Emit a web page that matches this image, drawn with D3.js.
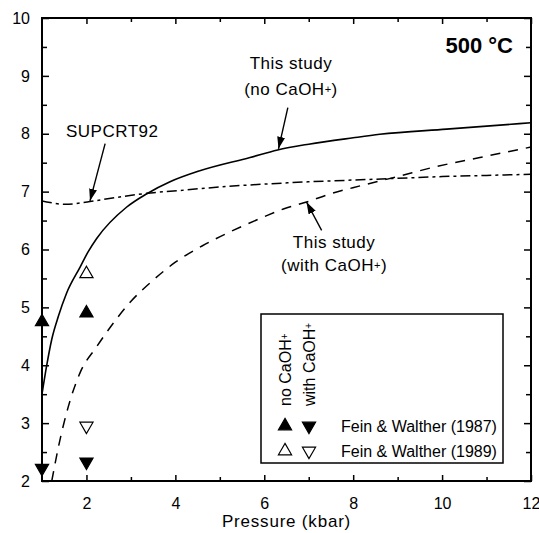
<!DOCTYPE html>
<html><head><meta charset="utf-8">
<script src="https://cdn.jsdelivr.net/npm/d3@7"></script>
<style>body{margin:0;background:#fff} text{font-family:"Liberation Sans",Arial,sans-serif;fill:#000}</style>
</head><body><svg id="c" width="539" height="533"></svg>
<script>
// ---- data ----
const xMajorTicks = [2, 4, 6, 8, 10, 12];
const xMinorTicks = [3, 5, 7, 9, 11];
const yMajorTicks = [2, 3, 4, 5, 6, 7, 8, 9, 10];
const yMinorTicks = [2.5, 3.5, 4.5, 5.5, 6.5, 7.5, 8.5, 9.5];

// This study (no CaOH+) - solid
const noCaOH_P = [1.0, 1.1, 1.22, 1.37, 1.55, 1.86, 2.03, 2.23, 2.9, 3.35, 3.88, 4.55, 5.68, 6.3, 7.0, 8.0, 8.6, 10.1, 12.0];
const noCaOH_V = [3.5, 3.97, 4.45, 4.85, 5.24, 5.7, 5.95, 6.19, 6.73, 6.96, 7.17, 7.36, 7.59, 7.72, 7.82, 7.93, 7.99, 8.08, 8.19];
// SUPCRT92 - dash-dot
const supcrt_P = [1.0, 1.5, 2.08, 2.68, 3.35, 4.1, 5.0, 6.0, 7.0, 8.0, 9.0, 10.0, 11.0, 12.0];
const supcrt_V = [6.84, 6.78, 6.83, 6.9, 6.97, 7.02, 7.08, 7.13, 7.17, 7.2, 7.23, 7.26, 7.28, 7.3];
// This study (with CaOH+) - dashed
const withCaOH_P = [1.22, 1.37, 1.59, 1.85, 2.23, 2.54, 2.96, 3.5, 4.0, 4.6, 5.3, 5.98, 6.43, 6.95, 7.48, 8.16, 9.0, 9.8, 10.85, 12.0];
const withCaOH_V = [2.0, 2.59, 3.28, 3.86, 4.32, 4.66, 5.07, 5.47, 5.78, 6.06, 6.33, 6.56, 6.70, 6.82, 6.96, 7.10, 7.26, 7.42, 7.59, 7.77];

// Fein & Walther data
const fw1987_noP = [1, 2];   const fw1987_noV = [4.75, 4.9];   // filled up
const fw1987_withP = [1, 2]; const fw1987_withV = [2.22, 2.33]; // filled down
const fw1989_noP = [2];      const fw1989_noV = [5.58];         // open up
const fw1989_withP = [2];    const fw1989_withV = [2.95];       // open down

// ---- chart ----
const svg = d3.select("#c");
const x = d3.scaleLinear([1, 12], [42, 531]);
const y = d3.scaleLinear([2, 10], [481, 18]);
const FS = 16;

const defs = svg.append("defs");
defs.append("clipPath").attr("id", "clip").append("rect")
  .attr("x", x(1)).attr("y", y(10)).attr("width", x(12) - x(1)).attr("height", y(2) - y(10));
defs.append("marker").attr("id", "ah").attr("markerUnits", "userSpaceOnUse")
  .attr("viewBox", "0 0 12 8").attr("refX", 12).attr("refY", 4)
  .attr("markerWidth", 12).attr("markerHeight", 8).attr("orient", "auto")
  .append("path").attr("d", "M0,0L12,4L0,8Z").attr("fill", "#000");

function axis(gen, ticks, size, labels, tr) {
  const g = svg.append("g").attr("transform", tr)
    .call(gen.tickValues(ticks).tickSizeInner(size).tickSizeOuter(0)
      .tickPadding(gen === null ? 0 : (labels ? (gen.__pad || 0) : 0))
      .tickFormat(labels ? d3.format("d") : ""));
  g.select(".domain").remove();
  g.selectAll(".tick line").attr("stroke", "#000").attr("stroke-width", 1.5);
  g.selectAll("text").style("font-size", FS + "px").attr("fill", "#000");
  return g;
}
// bottom
let ab = d3.axisBottom(x); ab.__pad = 17;
axis(ab, xMajorTicks, -6, true, `translate(0,${y(2)})`);
axis(d3.axisBottom(x), xMinorTicks, -4, false, `translate(0,${y(2)})`);
// top
axis(d3.axisTop(x), xMajorTicks, -6, false, `translate(0,${y(10)})`);
axis(d3.axisTop(x), xMinorTicks, -4, false, `translate(0,${y(10)})`);
// left
let al = d3.axisLeft(y); al.__pad = 12;
axis(al, yMajorTicks, -7, true, `translate(${x(1)},0)`);
axis(d3.axisLeft(y), yMinorTicks, -5, false, `translate(${x(1)},0)`);
// right
axis(d3.axisRight(y), yMajorTicks, -7, false, `translate(${x(12)},0)`);
axis(d3.axisRight(y), yMinorTicks, -5, false, `translate(${x(12)},0)`);

// frame
svg.append("rect").attr("x", x(1)).attr("y", y(10))
  .attr("width", x(12) - x(1)).attr("height", y(2) - y(10))
  .attr("fill", "none").attr("stroke", "#000").attr("stroke-width", 2);

// curves
const zip = (P, V) => P.map((p, i) => [p, V[i]]);
const line = d3.line().x(d => x(d[0])).y(d => y(d[1])).curve(d3.curveMonotoneX);
const curves = svg.append("g").attr("clip-path", "url(#clip)");
curves.append("path").attr("d", line(zip(noCaOH_P, noCaOH_V)))
  .attr("fill", "none").attr("stroke", "#000").attr("stroke-width", 1.6);
curves.append("path").attr("d", d3.line().x(d => x(d[0])).y(d => y(d[1])).curve(d3.curveCatmullRom)(zip(supcrt_P, supcrt_V)))
  .attr("fill", "none").attr("stroke", "#000").attr("stroke-width", 1.5)
  .attr("stroke-dasharray", "10,4,3,4");
curves.append("path").attr("d", line(zip(withCaOH_P, withCaOH_V)))
  .attr("fill", "none").attr("stroke", "#000").attr("stroke-width", 1.5)
  .attr("stroke-dasharray", "10,8");

// markers
const triUp = d3.symbol().type(d3.symbolTriangle).size(75);
function tri(P, V, down, filled) {
  svg.append("g").selectAll("path").data(zip(P, V)).join("path")
    .attr("d", triUp())
    .attr("transform", d => `translate(${x(d[0])},${y(d[1])})${down ? " rotate(180)" : ""}`)
    .attr("fill", filled ? "#000" : "#fff").attr("stroke", "#000").attr("stroke-width", 1.2);
}
tri(fw1987_noP, fw1987_noV, false, true);
tri(fw1987_withP, fw1987_withV, true, true);
tri(fw1989_noP, fw1989_noV, false, false);
tri(fw1989_withP, fw1989_withV, true, false);

// title
svg.append("text").attr("x", 513).attr("y", 53).attr("text-anchor", "end")
  .style("font-size", "22px").style("font-weight", "bold").text("500 °C");

// x axis title
svg.append("text").attr("x", (x(1) + x(12)) / 2).attr("y", 527).attr("text-anchor", "middle")
  .style("font-size", "17px").style("letter-spacing", "0.8px").text("Pressure (kbar)");

// annotations
function arrow(p0, p1) {
  svg.append("line").attr("x1", x(p0[0])).attr("y1", y(p0[1])).attr("x2", x(p1[0])).attr("y2", y(p1[1]))
    .attr("stroke", "#000").attr("stroke-width", 1.4).attr("marker-end", "url(#ah)");
}
function label(px, py, parts, anchor) {
  const t = svg.append("text").attr("x", x(px)).attr("y", y(py)).attr("text-anchor", anchor)
    .style("font-size", "17px").style("letter-spacing", "0.5px");
  parts.forEach(p => {
    const s = t.append("tspan").text(p.t);
    if (p.sup) s.style("font-size", "11px").attr("dy", -2);
    if (p.down) s.attr("dy", 2);
  });
}
label(1.54, 7.95, [{t: "SUPCRT92"}], "start");
arrow([2.42, 7.83], [2.08, 6.84]);

label(6.6, 9.12, [{t: "This study"}], "middle");
label(6.6, 8.67, [{t: "(no CaOH"}, {t: "+", sup: true}, {t: ")", down: true}], "middle");
arrow([6.53, 8.45], [6.32, 7.74]);

label(7.57, 6.03, [{t: "This study"}], "middle");
label(7.57, 5.62, [{t: "(with CaOH"}, {t: "+", sup: true}, {t: ")", down: true}], "middle");
arrow([7.29, 6.33], [6.95, 6.82]);

// legend
const lg = svg.append("g");
lg.append("rect").attr("x", 261).attr("y", 314).attr("width", 242).attr("height", 149)
  .attr("fill", "#fff").attr("stroke", "#000").attr("stroke-width", 1.5);
function vlabel(cx, main) {
  const t = lg.append("text").attr("transform", `translate(${cx},406) rotate(-90)`)
    .style("font-size", "16px");
  t.append("tspan").text(main);
  t.append("tspan").text("+").style("font-size", "10px").attr("dy", -3);
}
vlabel(291, "no CaOH");
vlabel(315, "with CaOH");
const legTri = (cx, cy, down, filled) => lg.append("path").attr("d", triUp())
  .attr("transform", `translate(${cx},${cy})${down ? " rotate(180)" : ""}`)
  .attr("fill", filled ? "#000" : "#fff").attr("stroke", "#000").attr("stroke-width", 1.2);
legTri(285, 426, false, true); legTri(309, 426, true, true);
legTri(285, 451, false, false); legTri(309, 451, true, false);
lg.append("text").attr("x", 341).attr("y", 432).style("font-size", "16px").text("Fein & Walther (1987)");
lg.append("text").attr("x", 341).attr("y", 457).style("font-size", "16px").text("Fein & Walther (1989)");
</script>
</body></html>
